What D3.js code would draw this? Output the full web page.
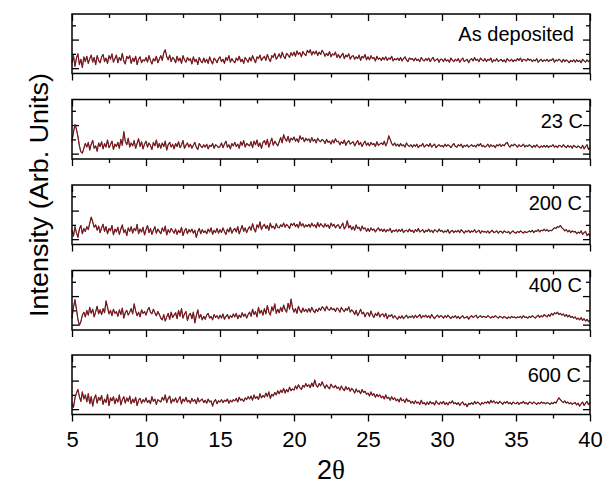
<!DOCTYPE html>
<html>
<head>
    <meta charset="utf-8">
    <title>XRD patterns vs annealing temperature</title>
    <script src="https://d3js.org/d3.v7.min.js"></script>
    <style>
        body { margin: 0; background: #fff; }
        svg { display: block; font-family: "Liberation Sans", Arial, sans-serif; }
    </style>
</head>
<body>
    <div id="chart"></div>
    <script>
        // sampling grid: 5.0 to 40.0 deg in 0.1 deg steps
        var twoTheta = d3.range(351).map(function(i) { return +(5 + i * 0.1).toFixed(1); });

        var labels = ["As deposited", "23 C", "200 C", "400 C", "600 C"];
        var xMajor = [5, 10, 15, 20, 25, 30, 35, 40];
        var xMinor = [7.5, 12.5, 17.5, 22.5, 27.5, 32.5, 37.5];
        var yMajor = [9, 57];
        var yMinor = [33, 81];

        // intensities (arb. units, 0-100 per panel)
        var asDeposited = [
            18,30,12,26,33,15,24,10,28,20,
            29,17,25,31,19,27,15,30,22,18,
            28,32,20,26,17,30,24,33,19,25,
            31,18,27,22,34,21,16,29,25,30,
            17,26,20,29,15,24,28,18,23,21,
            27,19,30,22,16,25,21,29,18,24,
            30,22,35,40,28,23,31,20,27,24,
            18,29,21,26,17,30,23,19,27,22,
            25,16,28,20,24,15,27,21,18,26,
            19,24,17,28,21,16,26,23,18,25,
            28,20,24,17,27,22,30,19,25,21,
            18,26,22,29,20,24,17,27,23,19,
            27,21,30,24,18,28,25,31,22,26,
            29,22,32,25,20,30,27,34,24,28,
            33,26,36,29,25,34,31,27,35,30,
            36,29,38,32,35,28,37,33,30,39,
            35,40,31,37,33,38,30,36,32,39,
            35,29,34,30,37,28,33,31,36,27,
            32,26,30,34,25,31,28,33,24,29,
            30,24,28,25,31,22,29,26,32,23,
            28,23,30,25,27,21,29,24,26,22,
            27,23,28,22,26,24,29,21,25,23,
            26,22,27,21,25,28,23,20,26,24,
            25,21,26,22,24,20,27,23,21,25,
            22,26,20,24,27,21,23,25,19,24,
            24,20,25,21,23,19,26,22,20,24,
            21,25,19,23,26,20,22,24,18,23,
            25,21,27,22,24,20,26,23,21,25,
            20,24,22,26,19,23,21,25,20,22,
            24,20,23,19,25,22,21,24,20,23,
            21,25,22,26,20,24,23,21,25,22,
            24,20,23,21,25,19,22,24,20,23,
            21,24,20,23,22,25,19,23,21,24,
            22,19,24,20,23,21,18,22,20,23,
            19,23,20,22,18,24,21,19,23,20,
            22
        ];

        var c23 = [
            30,45,58,50,38,22,12,10,18,26,
            20,28,15,25,31,18,22,13,27,21,
            29,17,26,20,32,19,24,30,16,25,
            21,28,18,33,23,46,30,24,35,20,
            27,22,31,18,26,34,21,29,17,25,
            30,20,27,23,16,28,22,32,19,26,
            18,27,21,30,15,24,28,20,25,17,
            26,21,29,19,24,31,18,23,27,20,
            25,18,23,28,20,16,26,22,19,24,
            20,25,17,23,21,26,18,24,22,19,
            21,27,19,25,30,20,24,17,26,22,
            28,21,25,18,29,23,31,20,26,24,
            22,29,19,30,24,32,21,27,18,28,
            31,24,33,20,28,35,23,30,26,22,
            29,36,27,41,34,30,38,28,35,32,
            37,30,34,28,39,33,36,29,35,31,
            34,28,36,30,33,27,35,31,29,33,
            31,26,33,28,30,25,32,27,34,29,
            30,24,29,26,32,23,28,31,25,27,
            29,22,27,31,24,28,21,26,30,23,
            27,22,28,24,26,21,29,23,25,27,
            24,30,22,28,39,33,26,23,27,22,
            25,21,26,22,24,20,27,23,21,24,
            20,24,21,25,19,23,22,26,20,23,
            24,21,26,20,23,25,19,22,24,21,
            23,20,25,21,24,22,19,23,26,21,
            20,24,22,25,19,23,21,24,20,22,
            24,21,23,20,25,22,26,21,23,20,
            22,25,20,24,21,23,19,24,22,25,
            21,24,22,26,28,23,20,24,22,25,
            23,20,24,21,22,25,20,23,21,24,
            22,19,23,20,24,21,19,22,20,23,
            20,23,19,22,21,24,20,22,19,23,
            22,20,24,21,19,23,20,22,18,23,
            21,19,22,20,18,23,17,21,24,16,
            18
        ];

        var c200 = [
            24,14,30,20,12,26,32,18,27,22,
            30,25,36,46,38,29,33,24,31,20,
            28,34,22,30,18,27,23,32,16,26,
            21,29,17,26,33,20,25,15,28,22,
            30,19,27,23,34,18,26,21,29,16,
            25,32,20,27,17,24,30,19,26,22,
            18,28,22,31,16,25,20,27,23,19,
            26,17,24,20,29,15,23,27,18,25,
            21,26,19,24,12,22,27,18,25,20,
            23,18,26,21,28,17,24,20,27,19,
            25,20,28,22,17,26,21,29,19,24,
            27,21,30,18,25,32,22,28,20,26,
            30,24,35,26,21,33,28,38,25,31,
            34,27,32,24,36,28,31,26,35,29,
            28,33,30,36,29,34,31,27,35,32,
            36,30,34,28,38,31,35,29,33,30,
            34,29,36,31,33,28,37,30,35,32,
            29,35,30,33,27,36,31,34,28,32,
            33,27,31,36,26,30,40,28,32,25,
            30,24,33,27,29,23,31,26,28,22,
            27,22,28,24,26,21,25,28,23,26,
            22,26,21,25,23,27,20,24,22,25,
            21,25,22,26,20,23,24,21,26,22,
            24,20,25,22,27,21,23,25,20,24,
            22,26,21,24,20,25,23,21,26,22,
            24,20,23,21,25,19,22,24,20,23,
            21,24,20,25,22,19,23,21,24,20,
            23,21,25,20,22,24,19,23,21,22,
            20,23,19,22,24,20,21,23,19,22,
            22,19,23,21,20,22,18,21,23,20,
            19,22,20,23,21,19,22,20,21,23,
            21,24,20,23,22,25,21,24,23,26,
            23,25,22,24,23,26,28,27,30,29,
            32,28,26,23,25,21,24,20,23,21,
            22,18,21,19,23,17,20,22,15,18,
            14
        ];

        var c400 = [
            20,38,51,35,18,8,14,25,30,22,
            33,25,38,28,35,22,31,40,27,34,
            26,36,29,49,38,27,33,24,35,28,
            31,23,34,26,37,20,29,33,25,30,
            36,27,44,32,24,30,22,34,28,31,
            25,33,38,30,27,35,29,24,31,26,
            20,17,26,15,22,28,18,30,21,25,
            29,19,33,23,36,20,27,31,16,25,
            28,19,30,12,24,34,20,26,17,23,
            18,25,28,20,23,17,26,21,24,19,
            25,20,27,18,23,26,19,24,21,27,
            22,28,19,25,21,29,23,27,20,26,
            30,23,35,26,31,22,38,28,33,25,
            36,27,41,30,25,39,32,44,28,35,
            29,38,31,42,34,30,45,35,52,37,
            30,36,28,40,33,29,37,31,35,30,
            36,30,38,33,29,35,31,37,33,39,
            37,32,40,35,33,38,34,36,31,37,
            35,30,38,34,31,36,33,39,30,34,
            31,26,33,24,29,35,27,30,22,28,
            29,23,32,25,21,28,24,30,22,26,
            27,22,28,19,25,23,26,20,24,21,
            18,23,20,24,19,22,25,20,23,21,
            24,20,25,21,23,26,20,24,22,25,
            21,24,20,26,22,19,23,25,21,24,
            23,20,24,21,25,22,19,23,21,24,
            20,23,19,22,24,20,21,23,18,22,
            24,21,23,25,20,22,24,21,23,22,
            21,24,22,20,23,21,24,22,20,23,
            22,20,23,21,19,22,20,23,21,22,
            20,22,21,23,20,24,21,22,20,23,
            21,24,22,20,23,25,21,24,22,26,
            24,22,26,23,28,25,29,27,30,26,
            28,25,27,23,26,22,25,21,23,20,
            22,18,20,17,21,16,19,15,18,14,
            17
        ];

        var c600 = [
            18,12,28,36,42,30,22,38,26,33,
            21,35,18,30,14,27,33,19,29,24,
            32,17,26,20,34,15,28,23,30,18,
            27,21,33,16,25,30,19,28,22,31,
            18,26,20,29,15,24,27,19,25,21,
            28,20,24,18,30,22,26,17,25,23,
            21,29,24,33,20,27,31,19,26,22,
            28,20,25,30,18,26,22,29,21,24,
            19,27,22,25,18,28,21,24,26,20,
            24,19,26,21,23,14,22,25,18,23,
            21,25,20,24,22,26,19,24,21,25,
            23,27,21,29,24,26,22,28,25,30,
            26,31,24,33,27,30,25,35,28,32,
            29,36,30,38,27,34,31,37,33,40,
            35,41,37,44,36,42,38,46,40,43,
            41,48,43,50,45,42,49,46,52,47,
            50,45,53,47,58,49,46,52,48,55,
            49,44,50,46,43,51,47,45,49,44,
            46,41,48,43,40,47,42,45,39,44,
            41,36,43,38,40,35,42,37,39,34,
            36,31,38,32,35,29,34,30,33,28,
            31,26,33,27,29,24,30,25,28,23,
            26,21,28,23,25,20,27,22,24,19,
            22,18,23,19,21,17,24,18,20,16,
            21,17,22,18,20,16,23,19,17,21,
            18,22,17,20,16,21,19,23,18,20,
            17,20,15,19,21,16,18,13,19,17,
            20,17,22,18,21,19,16,20,18,21,
            19,22,18,24,20,23,19,21,18,22,
            20,17,21,19,22,18,20,17,21,19,
            18,21,17,20,19,22,18,20,17,21,
            20,18,21,19,17,20,18,21,19,20,
            18,20,19,17,20,18,21,19,24,28,
            25,22,20,23,19,21,18,20,17,19,
            20,16,19,14,18,21,15,19,22,17,
            20
        ];

        var seriesList = [asDeposited, c23, c200, c400, c600];

        // layout
        var width = 606, height = 487;
        var plotLeft = 72, plotRight = 590;
        var panelTops = [14, 99.5, 185, 270.5, 355];
        var panelH = 59.5;
        var labelRight = [574, 583, 582, 582, 581];
        var labelDy = [27, 28, 25, 21, 27];

        var svg = d3.select("#chart")
            .append("svg")
            .attr("width", width)
            .attr("height", height);

        var x = d3.scaleLinear()
            .domain([5, 40])
            .range([plotLeft, plotRight]);

        seriesList.forEach(function(values, p) {
            var top = panelTops[p];
            var y = d3.scaleLinear()
                .domain([0, 100])
                .range([top + panelH, top]);

            var g = svg.append("g");
            var isLast = p === seriesList.length - 1;

            // top ticks (inward)
            g.append("g")
                .attr("transform", "translate(0," + top + ")")
                .call(d3.axisTop(x).tickValues(xMajor).tickSize(-7).tickFormat(""));
            g.append("g")
                .attr("transform", "translate(0," + top + ")")
                .call(d3.axisTop(x).tickValues(xMinor).tickSize(-4).tickFormat(""));

            // bottom ticks (outward)
            var bottomAxis = g.append("g")
                .attr("transform", "translate(0," + (top + panelH) + ")")
                .call(d3.axisBottom(x).tickValues(xMajor).tickSize(7).tickPadding(10)
                    .tickFormat(isLast ? d3.format("d") : ""));
            g.append("g")
                .attr("transform", "translate(0," + (top + panelH) + ")")
                .call(d3.axisBottom(x).tickValues(xMinor).tickSize(4).tickFormat(""));

            bottomAxis.selectAll("text")
                .style("font-family", "'Liberation Sans', Arial, sans-serif")
                .style("font-size", "22px")
                .attr("fill", "#000");

            // left / right ticks (inward)
            g.append("g")
                .attr("transform", "translate(" + plotLeft + ",0)")
                .call(d3.axisLeft(y).tickValues(yMajor).tickSize(-7).tickFormat(""));
            g.append("g")
                .attr("transform", "translate(" + plotLeft + ",0)")
                .call(d3.axisLeft(y).tickValues(yMinor).tickSize(-4).tickFormat(""));
            g.append("g")
                .attr("transform", "translate(" + plotRight + ",0)")
                .call(d3.axisRight(y).tickValues(yMajor).tickSize(-7).tickFormat(""));
            g.append("g")
                .attr("transform", "translate(" + plotRight + ",0)")
                .call(d3.axisRight(y).tickValues(yMinor).tickSize(-4).tickFormat(""));

            g.selectAll(".domain").remove();
            g.selectAll(".tick line").attr("stroke", "#000").attr("stroke-width", 1.3);

            var line = d3.line()
                .x(function(d, i) { return x(twoTheta[i]); })
                .y(function(d) { return y(d); });

            g.append("path")
                .datum(values)
                .attr("fill", "none")
                .attr("stroke", "#111")
                .attr("stroke-width", 1.1)
                .attr("stroke-linejoin", "round")
                .attr("d", line);
            g.append("path")
                .datum(values)
                .attr("fill", "none")
                .attr("stroke", "#d0141e")
                .attr("stroke-width", 0.6)
                .attr("stroke-linejoin", "round")
                .attr("d", line);

            // frame
            g.append("rect")
                .attr("x", plotLeft)
                .attr("y", top)
                .attr("width", plotRight - plotLeft)
                .attr("height", panelH)
                .attr("fill", "none")
                .attr("stroke", "#000")
                .attr("stroke-width", 1.5);

            g.append("text")
                .attr("x", labelRight[p])
                .attr("y", top + labelDy[p])
                .attr("text-anchor", "end")
                .style("font-size", "20px")
                .text(labels[p]);
        });

        // axis titles
        var xTitle = svg.append("text")
            .attr("x", 331)
            .attr("y", 479)
            .attr("text-anchor", "middle")
            .style("font-size", "27px");
        xTitle.append("tspan").text("2");
        xTitle.append("tspan")
            .style("font-family", "'Liberation Serif', 'Times New Roman', serif")
            .text("θ");

        svg.append("text")
            .attr("transform", "translate(48,195) rotate(-90)")
            .attr("text-anchor", "middle")
            .attr("textLength", 244)
            .attr("lengthAdjust", "spacingAndGlyphs")
            .style("font-size", "25px")
            .text("Intensity (Arb. Units)");
    </script>
</body>
</html>
